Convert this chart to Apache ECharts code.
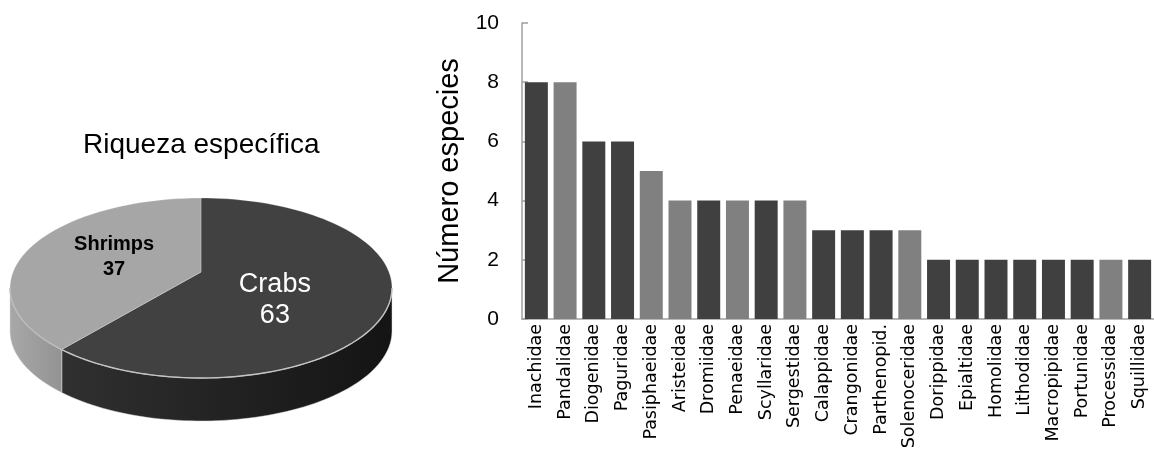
<!DOCTYPE html>
<html><head><meta charset="utf-8">
<script src="https://cdn.jsdelivr.net/npm/echarts@6/dist/echarts.min.js"></script>
<style>html,body{margin:0;padding:0;background:#fff}#c{width:1154px;height:453px}</style>
</head><body><div id="c"></div>
<script>
// ---- data ----
var pieTitle = 'Riqueza específica';
var pieNames = ['Crabs', 'Shrimps'];
var pieValues = [63, 37];

var categories = ['Inachidae','Pandalidae','Diogenidae','Paguridae','Pasiphaeidae','Aristeidae','Dromiidae','Penaeidae','Scyllaridae','Sergestidae','Calappidae','Crangonidae','Parthenopid.','Solenoceridae','Dorippidae','Epialtidae','Homolidae','Lithodidae','Macropipidae','Portunidae','Processidae','Squillidae'];
var barValues = [8,8,6,6,5,4,4,4,4,4,3,3,3,3,2,2,2,2,2,2,2,2];
var barGroups = ['Crabs','Shrimps','Crabs','Crabs','Shrimps','Shrimps','Crabs','Shrimps','Crabs','Shrimps','Crabs','Crabs','Crabs','Shrimps','Crabs','Crabs','Crabs','Crabs','Crabs','Crabs','Shrimps','Crabs'];
var yAxisName = 'Número especies';
var yMin = 0, yMax = 10, yStep = 2;

// ---- styles ----
var barColors = {Crabs: '#404040', Shrimps: '#808080'};
var pieStyle = {
  Crabs:   {top: '#414141', side: ['#303030', '#141414'], label: {color: '#ffffff', size: 27, weight: 'normal', lh: 31, dx: -5, dy: 4}},
  Shrimps: {top: '#a6a6a6', side: ['#a8a8a8', '#939393'], label: {color: '#000000', size: 20, weight: 'bold', lh: 25, dx: -8, dy: -7}}
};
var P = {cx: 201, cy: 288, rx: 191, ry: 90, depth: 43, apexDy: -16, labelFrac: 0.45, labelDy: -8};
var FONT = 'Liberation Sans, Arial, sans-serif';

var total = pieValues.reduce(function (a, b) { return a + b; }, 0);
function ang(i) {
  var cum = 0;
  for (var k = 0; k < i; k++) cum += pieValues[k];
  var start = 90 - cum / total * 360;
  var end = start - pieValues[i] / total * 360;
  return [end, start]; // ccw range in degrees
}
function pt(deg, dy) {
  var r = deg * Math.PI / 180;
  return [P.cx + P.rx * Math.cos(r), P.cy - P.ry * Math.sin(r) + (dy || 0)];
}
function arc(a, b, dy) {
  var pts = [], n = Math.max(2, Math.ceil(Math.abs(b - a) / 2));
  for (var j = 0; j <= n; j++) pts.push(pt(a + (b - a) * j / n, dy));
  return pts;
}
function frontRanges(a, b) {
  var out = [];
  [-360, 0, 360].forEach(function (off) {
    var lo = Math.max(a, 180 + off - 360), hi = Math.min(b, 360 + off - 360);
    if (hi > lo) out.push([lo, hi]);
  });
  return out;
}

function renderPie(params, api) {
  var i = params.dataIndex;
  var name = pieNames[i];
  var st = pieStyle[name];
  var r = ang(i);
  var children = [];
  frontRanges(r[0], r[1]).forEach(function (fr) {
    var top = arc(fr[0], fr[1], 0);
    var bot = arc(fr[1], fr[0], P.depth);
    children.push({type: 'polygon', shape: {points: top.concat(bot)},
      style: {fill: {type: 'linear', x: 0, y: 0, x2: 1, y2: 0, colorStops: [{offset: 0, color: st.side[0]}, {offset: 1, color: st.side[1]}]},
              stroke: 'rgba(220,220,220,0.6)', lineWidth: 0.8}});
  });
  var apex = [P.cx, P.cy + P.apexDy];
  children.push({type: 'polygon', shape: {points: [apex].concat(arc(r[0], r[1], 0))},
    style: {fill: st.top, stroke: 'rgba(255,255,255,0.25)', lineWidth: 1}});
  frontRanges(r[0], r[1]).forEach(function (fr) {
    children.push({type: 'polyline', shape: {points: arc(fr[0], fr[1], 0)},
      style: {fill: null, stroke: name === 'Crabs' ? '#c4c4c4' : '#bcbcbc', lineWidth: 1.4}});
  });
  var mid = (r[0] + r[1]) / 2 * Math.PI / 180;
  var lx = P.cx + P.labelFrac * P.rx * Math.cos(mid) + st.label.dx;
  var ly = P.cy + P.labelDy - P.labelFrac * P.ry * Math.sin(mid) + st.label.dy;
  children.push({type: 'text', x: lx, y: ly,
    style: {text: name + '\n' + api.value(0), fill: st.label.color, fontSize: st.label.size, fontWeight: st.label.weight,
            fontFamily: FONT, lineHeight: st.label.lh, align: 'center', verticalAlign: 'middle'}});
  return {type: 'group', children: children};
}

var chart = echarts.init(document.getElementById('c'), null, {renderer: 'canvas'});
chart.setOption({
  animation: false,
  backgroundColor: '#ffffff',
  title: {text: pieTitle, left: 83, top: 131, padding: 0,
    textStyle: {fontFamily: FONT, fontSize: 28, fontWeight: 'normal', color: '#000', lineHeight: 28}},
  grid: {left: 522, top: 23, width: 635, height: 296, containLabel: false},
  xAxis: {type: 'category', data: categories,
    axisLine: {lineStyle: {color: '#a0a0a0', width: 1.5}},
    axisTick: {show: false},
    axisLabel: {rotate: 90, interval: 0, margin: 5, color: '#000', fontSize: 17.5, fontFamily: 'DejaVu Sans, sans-serif'}},
  yAxis: {type: 'value', min: yMin, max: yMax, interval: yStep,
    name: yAxisName, nameLocation: 'middle', nameRotate: 90, nameGap: 56,
    nameTextStyle: {fontFamily: FONT, fontSize: 29, color: '#000'},
    axisLine: {show: true, lineStyle: {color: '#a0a0a0', width: 1.5}},
    axisTick: {show: true, inside: true, length: 6, lineStyle: {color: '#a0a0a0', width: 1.5}},
    axisLabel: {margin: 23, color: '#000', fontSize: 21, fontFamily: FONT},
    splitLine: {show: false}},
  series: [
    {type: 'bar', barCategoryGap: '20%', z: 1,
     data: barValues.map(function (v, i) { return {value: v, itemStyle: {color: barColors[barGroups[i]]}}; })},
    {type: 'custom', coordinateSystem: 'none', renderItem: renderPie, silent: true,
     data: pieValues.map(function (v, i) { return {name: pieNames[i], value: v}; })}
  ]
});
</script></body></html>
